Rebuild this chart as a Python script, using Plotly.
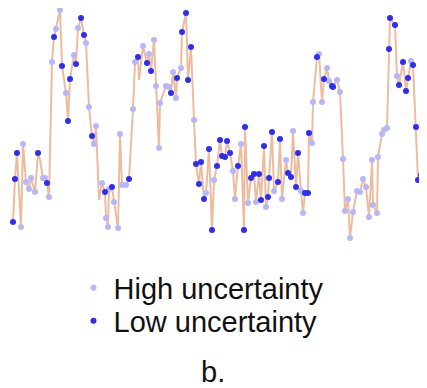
import plotly.graph_objects as go

# time index of each observation
t = [13,15,17,21,23,26,29,31,35,38,40,43,45,47,49,52,54,56,60,62,66,68,70,74,76,78,81,84,86,89,
     92,94,96,99,102,105,106,108,109,112,114,118,120,122,126,129,133,135,138,139,143,147,149,151,154,156,159,160,
     166,169,171,173,176,177,181,182,186,188,191,194,196,199,201,204,206,209,212,214,217,220,222,225,227,230,
     233,235,238,241,244,245,248,251,254,256,259,261,264,266,268,269,272,274,278,280,282,286,288,291,293,296,
     298,301,303,305,308,309,312,313,317,319,322,324,327,329,332,333,337,340,343,345,348,350,353,357,360,363,
     366,369,372,373,377,378,382,384,387,389,390,395,397,399,403,406,408,411,413,416,418,421,424,425]

# observed value (arbitrary units)
value = [18,61,87,13,96,58,51,62,48,87,80,62,62,57,43,178,203,211,230,174,147,119,161,185,176,212,222,205,197,133,
         104,96,114,40,57,48,22,13,51,53,38,12,106,55,55,61,131,178,183,160,194,177,186,169,200,154,92,137,
         154,153,147,168,142,162,172,208,227,160,193,120,76,56,78,41,47,91,10,60,74,100,84,83,99,87,
         69,41,74,96,10,113,37,62,66,38,66,40,94,33,43,62,108,49,58,101,41,80,67,63,109,53,
         87,49,27,47,47,107,97,138,183,186,138,161,172,159,154,153,160,148,81,29,41,2,28,49,48,61,
         53,23,80,35,27,83,106,110,112,191,222,215,164,155,178,149,162,179,175,113,60,65,31,69]

# H = high uncertainty, L = low uncertainty
uncertainty = ['L','L','L','H','H','H','H','H','H','L','','H','H','L','H','H','L','H','H','L','H','L','L','H','L','H','L','L','H','H',
               'L','H','H','','H','L','H','H','H','L','H','H','H','H','H','L','H','H','L','','H','L','H','L','H','H','H','H',
               'H','H','L','H','H','L','H','L','L','L','L','H','L','L','L','L','H','L','L','H','L','L','L','L','L','L',
               'H','H','L','H','L','L','H','L','L','H','L','L','L','H','L','L','L','H','L','L','H','H','L','L','H','L',
               'L','H','H','L','L','L','H','H','L','H','H','L','H','H','L','L','H','H','H','H','H','H','H','H','H','H',
               'H','H','H','H','H','H','H','H','H','L','L','L','H','L','L','L','L','H','L','L','L','L','H','L']

series_names = {'H': 'High uncertainty', 'L': 'Low uncertainty'}
series_colors = {'H': '#b7b7f7', 'L': '#2e2ef2'}
series_legend = {'H': 'legend', 'L': 'legend2'}

fig = go.Figure()
fig.add_trace(go.Scatter(x=t, y=value, mode='lines', showlegend=False,
                         line=dict(color='#ebbc9e', width=2), hoverinfo='skip'))
for key in ['H', 'L']:
    xs = [a for a, u in zip(t, uncertainty) if u == key]
    ys = [b for b, u in zip(value, uncertainty) if u == key]
    fig.add_trace(go.Scatter(x=xs, y=ys, mode='markers', name=series_names[key],
                             legend=series_legend[key],
                             marker=dict(color=series_colors[key], size=6, symbol='circle',
                                         line=dict(width=0))))

# page body has an 8px margin, so the figure is 8px smaller and offset
W, H = 419, 380
legend_font = dict(family='Liberation Sans, Arial, sans-serif', size=29, color='#111111')
fig.update_layout(
    width=W, height=H,
    margin=dict(l=0, r=0, t=0, b=0, autoexpand=False),
    paper_bgcolor='white', plot_bgcolor='white',
    xaxis=dict(range=[8, 427], visible=False, domain=[0, 1]),
    yaxis=dict(range=[-5, 232], visible=False, domain=[1 - 237 / H, 1]),
    showlegend=True,
    legend=dict(x=65.5 / W, y=1 - 280 / H, xanchor='left', yanchor='middle',
                font=legend_font, bgcolor='rgba(0,0,0,0)', itemsizing='trace'),
    legend2=dict(x=65.5 / W, y=1 - 313 / H, xanchor='left', yanchor='middle',
                 font=legend_font, bgcolor='rgba(0,0,0,0)', itemsizing='trace'),
    annotations=[dict(text='b.', x=(213 - 8) / W, y=1 - 364 / H, xref='paper', yref='paper',
                      showarrow=False, xanchor='center', yanchor='middle',
                      font=legend_font)],
)

fig.write_html('out.html')
